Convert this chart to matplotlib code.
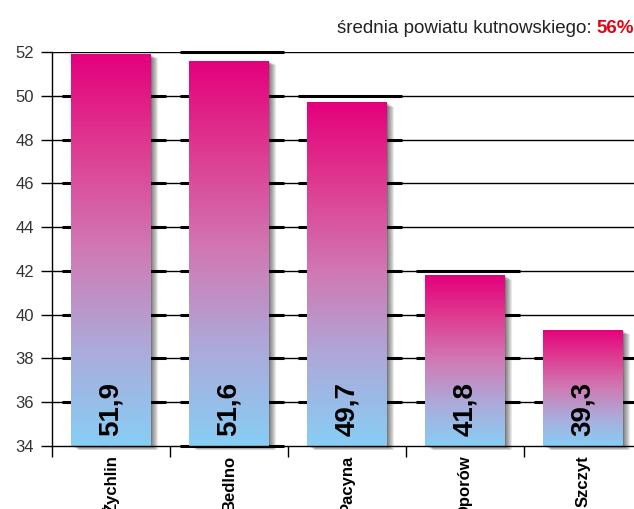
import matplotlib
matplotlib.use("Agg")
import matplotlib.pyplot as plt
import matplotlib.patheffects as pe
from matplotlib.patches import Rectangle
import numpy as np

# ---- data ----
categories = ["Żychlin", "Bedlno", "Pacyna", "Oporów", "Szczyt"]
values = [51.9, 51.6, 49.7, 41.8, 39.3]
value_labels = ["51,9", "51,6", "49,7", "41,8", "39,3"]
yticks = [34, 36, 38, 40, 42, 44, 46, 48, 50, 52]
header_text = "średnia powiatu kutnowskiego: "
header_value = "56%"

plt.rcParams['font.family'] = ['Liberation Sans', 'DejaVu Sans']

W, H = 634, 509
fig = plt.figure(figsize=(W / 100, H / 100), dpi=100)
# axes: left spine at x=52px, bottom at y=446px, top at y=52px, slot width 118px
ax = fig.add_axes([52 / W, (H - 446) / H, 590 / W, (446 - 52) / H])

ymin, ymax = 34, 52
ax.set_xlim(-0.5, len(categories) - 0.5)
ax.set_ylim(ymin, ymax)

# grid lines
for lv in yticks[1:]:
    ax.axhline(lv, color='black', lw=1.0, zorder=1)

bw = 0.67
px = 1 / 118.0
# thicker "back" stubs around bars
for i, v in enumerate(values):
    x0 = i - bw / 2 - 9 * px
    x1 = i + bw / 2 + 15 * px
    levels = [lv for lv in yticks[1:] if lv <= v]
    if i in (1, 2, 3):
        levels.append(min(lv for lv in yticks if lv > v))
    if i == 1:
        levels.append(ymin)
    for lv in levels:
        ax.plot([x0, x1], [lv, lv], color='black', lw=2.2, zorder=1.5,
                solid_capstyle='butt', clip_on=False)

# gradient
stops = np.array([0.0, 0.25, 0.5, 0.75, 1.0])
cols = np.array([[228, 0, 124], [222, 62, 146], [208, 122, 180],
                 [172, 170, 218], [135, 206, 245]]) / 255.0
t = np.linspace(0, 1, 256)
grad = np.stack([np.interp(t, stops, cols[:, k]) for k in range(3)], axis=-1)[:, None, :]

shadow = [pe.SimplePatchShadow(offset=(o, -o * 0.55), shadow_rgbFace='black', alpha=0.085)
          for o in np.arange(0.7, 6.0, 0.7)] + [pe.Normal()]

for i, v in enumerate(values):
    x0 = i - bw / 2
    rect = Rectangle((x0, ymin), bw, v - ymin, facecolor=(135/255, 206/255, 245/255),
                     edgecolor='none', zorder=2, clip_on=False)
    rect.set_path_effects(shadow)
    ax.add_patch(rect)
    im = ax.imshow(grad, extent=[x0, x0 + bw, ymin, v], aspect='auto',
                   origin='upper', zorder=2.5, interpolation='bilinear')
    im.set_clip_path(rect)
    ax.annotate(value_labels[i], xy=(i, ymin), xytext=(0, 7), textcoords='offset points',
                rotation=90, ha='center', va='bottom', fontsize=20, fontweight='bold',
                color='black', zorder=4)

ax.set_xlim(-0.5, len(categories) - 0.5)
ax.set_ylim(ymin, ymax)

# spines
for s in ('top', 'right'):
    ax.spines[s].set_visible(False)
ax.spines['left'].set_linewidth(1.0)
ax.spines['bottom'].set_linewidth(1.0)
ax.spines['left'].set_zorder(5)
ax.spines['bottom'].set_zorder(5)

ax.set_yticks(yticks)
ax.set_yticklabels([str(v) for v in yticks])
ax.tick_params(axis='y', length=8, width=1.0, pad=5, labelsize=12, labelcolor='#333333')

ax.set_xticks(range(len(categories)))
ax.set_xticklabels(categories, rotation=90, fontsize=12, fontweight='bold', va='top')
ax.set_xticks(np.arange(-0.5, len(categories), 1.0), minor=True)
ax.tick_params(axis='x', which='major', length=0, pad=6.5)
ax.tick_params(axis='x', which='minor', length=8, width=1.0, direction='out')

# header
hy = (H - 33) / H
t1 = fig.text(337 / W, hy, header_text, fontsize=13.5, color='#222222', va='baseline', ha='left')
fig.canvas.draw()
bb = t1.get_window_extent()
fig.text(bb.x1 / W, hy, header_value, fontsize=13.5, color='#e30613', fontweight='bold',
         va='baseline', ha='left')

fig.savefig("out.png", dpi=100)
